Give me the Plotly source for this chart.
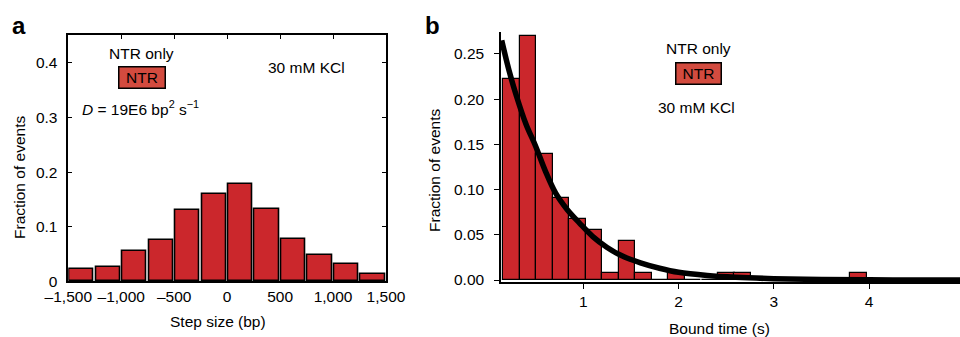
import plotly.graph_objects as go

# ---------------- data ----------------
# Panel a: step-size histogram
step_centers = [-1375, -1125, -875, -625, -375, -125, 125, 375, 625, 875, 1125, 1375]
step_fraction = [0.023, 0.026, 0.056, 0.075, 0.130, 0.160, 0.178, 0.132, 0.078, 0.048, 0.031, 0.013]
a_xticks = [-1500, -1000, -500, 0, 500, 1000, 1500]
a_xticklabels = ["\u20131,500", "\u20131,000", "\u2013500", "0", "500", "1,000", "1,500"]
a_yticks = [0, 0.1, 0.2, 0.3, 0.4]
a_yticklabels = ["0", "0.1", "0.2", "0.3", "0.4"]

# Panel b: bound-time histogram
bound_centers = [0.247, 0.420, 0.594, 0.767, 0.940, 1.113, 1.287, 1.460, 1.633, 1.807, 1.980,
                 2.153, 2.327, 2.500, 2.673, 2.847, 3.020, 3.193, 3.367, 3.540, 3.713, 3.887]
bound_fraction = [0.2226, 0.2704, 0.1389, 0.0911, 0.0674, 0.0556, 0.0074, 0.0437, 0.0074, 0.0, 0.0074,
                  0.0, 0.0, 0.0074, 0.0074, 0.0, 0.0, 0.0, 0.0, 0.0, 0.0, 0.0074]
bin_width_b = 0.1733
# exponential fit curve
fit_x = [0.144, 0.22, 0.30, 0.40, 0.50, 0.60, 0.71, 0.83, 0.96, 1.10, 1.25, 1.40, 1.60, 1.80,
         2.00, 2.30, 2.60, 3.00, 3.50, 4.00, 4.50, 5.00]
fit_y = [0.265, 0.232, 0.203, 0.172, 0.148, 0.121, 0.096, 0.078, 0.063, 0.048, 0.036, 0.027, 0.019, 0.013,
         0.0085, 0.005, 0.003, 0.0015, 0.0006, 0.0002, 0.0001, 0.0]
b_xticks = [1, 2, 3, 4]
b_xticklabels = ["1", "2", "3", "4"]
b_yticks = [0, 0.05, 0.10, 0.15, 0.20, 0.25]
b_yticklabels = ["0.00", "0.05", "0.10", "0.15", "0.20", "0.25"]

# ---------------- style ----------------
FONT = "Liberation Sans, Arial, Helvetica, sans-serif"
FS = 15.5
BAR_RED = "#CB272C"
BOX_RED = "#D34B3F"
W, H = 960, 337

fig = go.Figure()

fig.add_trace(go.Bar(
    x=step_centers, y=step_fraction, width=228,
    marker=dict(color=BAR_RED, line=dict(color="black", width=1.6)),
    xaxis="x", yaxis="y", showlegend=False,
))

fig.add_trace(go.Bar(
    x=bound_centers, y=bound_fraction, width=bin_width_b,
    marker=dict(color=BAR_RED, line=dict(color="black", width=1.2)),
    xaxis="x2", yaxis="y2", showlegend=False,
))

fig.add_trace(go.Scatter(
    x=fit_x, y=fit_y, mode="lines", line=dict(color="black", width=5.5, shape="spline"),
    xaxis="x2", yaxis="y2", showlegend=False,
))

axis_common = dict(showgrid=False, zeroline=False, showline=True, linecolor="black", linewidth=1.5,
                   automargin=False,
                   tickcolor="black", tickwidth=1.2, tickfont=dict(family=FONT, size=FS, color="black"))

def px_x(p):
    return p / W

def px_y(p):
    return 1 - p / H

fig.update_layout(
    template="none",
    width=W, height=H,
    margin=dict(l=0, r=0, t=0, b=0, autoexpand=False),
    paper_bgcolor="white", plot_bgcolor="white",
    font=dict(family=FONT, size=FS, color="black"),
    bargap=0,
    showlegend=False,
    xaxis=dict(domain=[px_x(68.3), px_x(386)], range=[-1500, 1500], anchor="y",
               tickvals=a_xticks, ticktext=a_xticklabels, ticks="inside", ticklen=4,
               mirror="ticks", ticklabelstandoff=0, **axis_common),
    yaxis=dict(domain=[px_y(281.3), px_y(35)], range=[0, 0.451], anchor="x",
               tickvals=a_yticks, ticktext=a_yticklabels, ticks="inside", ticklen=4,
               mirror="ticks", ticklabelstandoff=6, **axis_common),
    xaxis2=dict(domain=[px_x(501), 1.0], range=[0.1364, 4.953], anchor="y2",
                tickvals=b_xticks, ticktext=b_xticklabels, ticks="outside", ticklen=5,
                ticklabelstandoff=0, **axis_common),
    yaxis2=dict(domain=[px_y(282), px_y(32)], range=[-0.0022, 0.2743], anchor="x2",
                tickvals=b_yticks, ticktext=b_yticklabels, ticks="outside", ticklen=5,
                ticklabelstandoff=7, **axis_common),
)

def note(text, x, y, size=FS, **kw):
    fig.add_annotation(text=text, x=px_x(x), y=px_y(y), xref="paper", yref="paper",
                       xanchor="center", yanchor="middle", showarrow=False,
                       font=dict(family=FONT, size=size, color="black"), **kw)

# panel labels
note("<b>a</b>", 19, 25, size=24)
note("<b>b</b>", 432, 25, size=24)

# axis titles
note("Fraction of events", 19, 178, textangle=-90)
note("Step size (bp)", 218, 321)
note("Fraction of events", 434, 171, textangle=-90)
note("Bound time (s)", 719, 328)

# panel a annotations
note("NTR only", 141, 53)
note("NTR", 142, 77.5, bgcolor=BOX_RED, bordercolor="black", borderwidth=1.5,
     borderpad=0, width=45, height=20)
note("<i>D</i> = 19E6 bp<sup>2</sup> s<sup>\u22121</sup>", 140, 108)
note("30 mM KCl", 306.5, 67)

# panel b annotations
note("NTR only", 698, 48)
note("NTR", 698, 73, bgcolor=BOX_RED, bordercolor="black", borderwidth=1.5,
     borderpad=0, width=44, height=20)
note("30 mM KCl", 696, 108)

fig.write_html(
    "out.html",
    config={"displayModeBar": False},
    post_script="document.body.style.margin='0px';document.body.style.padding='0px';",
)
